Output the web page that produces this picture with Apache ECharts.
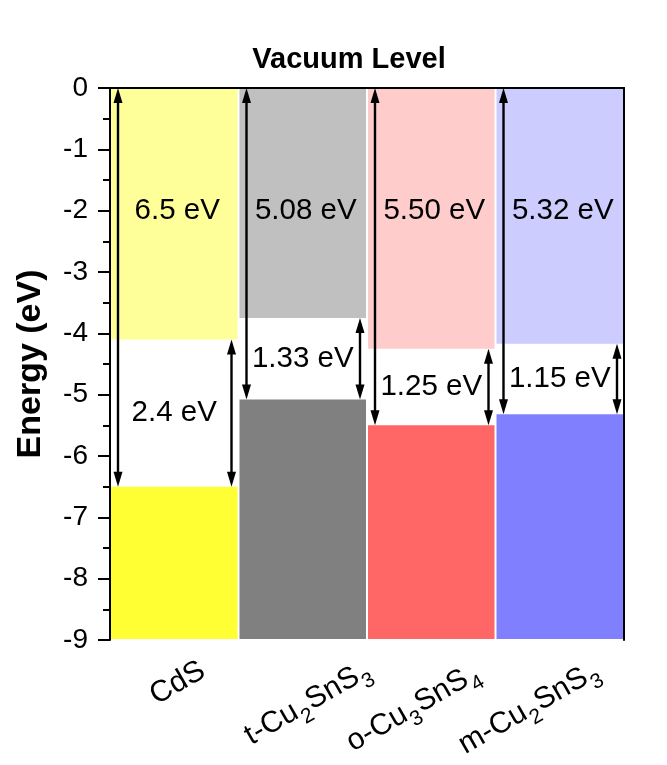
<!DOCTYPE html>
<html>
<head>
<meta charset="utf-8">
<script src="https://cdn.jsdelivr.net/npm/echarts@6/dist/echarts.min.js"></script>
<style>
html,body{margin:0;padding:0;background:#fff;}
#chart{width:667px;height:765px;}
</style>
</head>
<body>
<div id="chart"></div>
<script>
// ---- data ----
const categories = ['CdS', 't-Cu2SnS3', 'o-Cu3SnS4', 'm-Cu2SnS3'];
const valenceBand = [-6.5, -5.08, -5.50, -5.32];
const bandGap = [2.4, 1.33, 1.25, 1.15];
const ionizationLabels = ['6.5 eV', '5.08 eV', '5.50 eV', '5.32 eV'];
const gapLabels = ['2.4 eV', '1.33 eV', '1.25 eV', '1.15 eV'];
const yMin = -9, yMax = 0, yInterval = 1;
const longLabelLevel = -2;

// ---- styles ----
const lightColors = ['#FFFF99', '#C0C0C0', '#FFCCCC', '#CCCCFF'];
const darkColors = ['#FFFF33', '#808080', '#FF6666', '#8080FF'];
const labelPadding = [[0, -44, 32, 0], [4, -77, 0, 0], [0, -59, 11, 0], [0, -52, 23, 0]];
const FONT = 'Liberation Sans, Arial, sans-serif';

const conductionBand = valenceBand.map((v, i) => +(v + bandGap[i]).toFixed(2));
const seriesData = categories.map((c, i) => [i, conductionBand[i], valenceBand[i]]);

function richName(name) {
  return name.split(/(\d)/).filter(s => s.length).map(s => /\d/.test(s) ? '{s|' + s + '}' : '{n|' + s + '}').join('');
}

function arrow(x, yTopTip, yBotTip) {
  const hl = 15, hw = 4.5;
  return [
    {type: 'line', shape: {x1: x, y1: yTopTip + hl - 2, x2: x, y2: yBotTip - hl + 2}, style: {stroke: '#000', lineWidth: 2.4}},
    {type: 'polygon', shape: {points: [[x, yTopTip], [x - hw, yTopTip + hl], [x + hw, yTopTip + hl]]}, style: {fill: '#000'}},
    {type: 'polygon', shape: {points: [[x, yBotTip], [x - hw, yBotTip - hl], [x + hw, yBotTip - hl]]}, style: {fill: '#000'}}
  ];
}

function renderItem(params, api) {
  const i = api.value(0);
  const cb = api.value(1), vb = api.value(2);
  const bw = api.size([1, 0])[0];
  const cx = api.coord([i, 0])[0];
  const x0 = cx - bw / 2, x1 = cx + bw / 2;
  const yTop = api.coord([i, yMax])[1];
  const yCb = api.coord([i, cb])[1];
  const yVb = api.coord([i, vb])[1];
  const yBot = api.coord([i, yMin])[1];
  const children = [];
  children.push({type: 'rect', shape: {x: x0 + 1, y: yTop + 1, width: bw - 2, height: yCb - yTop - 1}, style: {fill: lightColors[i]}});
  children.push({type: 'rect', shape: {x: x0 + 1, y: yVb, width: bw - 2, height: yBot - yVb - 1}, style: {fill: darkColors[i]}});
  children.push(...arrow(x0 + 8, yTop, yVb));
  children.push(...arrow(x1 - 7, yCb, yVb));
  children.push({type: 'text', style: {text: ionizationLabels[i], x: cx + 3, y: api.coord([i, longLabelLevel])[1],
    align: 'center', verticalAlign: 'middle', fill: '#000', fontSize: 29.5, fontFamily: FONT}});
  children.push({type: 'text', style: {text: gapLabels[i], x: cx, y: api.coord([i, (cb + vb) / 2])[1],
    align: 'center', verticalAlign: 'middle', fill: '#000', fontSize: 29.5, fontFamily: FONT}});
  return {type: 'group', children: children};
}

const chart = echarts.init(document.getElementById('chart'), null, {renderer: 'canvas'});
chart.setOption({
  backgroundColor: '#fff',
  animation: false,
  title: {
    text: 'Vacuum Level', left: 344, top: 40, textAlign: 'center',
    textStyle: {fontSize: 29, fontWeight: 'bold', fontFamily: FONT, color: '#000'}
  },
  grid: {left: 110, right: 43, top: 88, bottom: 125, containLabel: false, outerBoundsMode: 'none'},
  xAxis: [{
    type: 'category',
    data: categories.map((c, i) => ({value: c, textStyle: {padding: labelPadding[i]}})),
    position: 'bottom',
    axisLine: {show: true, lineStyle: {color: '#000', width: 2}},
    axisTick: {show: false},
    splitLine: {show: false},
    axisLabel: {
      rotate: 30, margin: 67, interval: 0, hideOverlap: false,
      formatter: v => richName(v),
      rich: {
        n: {fontSize: 30, fontFamily: FONT, color: '#000', lineHeight: 36, verticalAlign: 'top'},
        s: {fontSize: 21, fontFamily: FONT, color: '#000', lineHeight: 21, padding: [16, 1, 0, 1], verticalAlign: 'top'}
      }
    }
  }, {
    type: 'category',
    data: categories,
    position: 'top',
    axisLine: {show: true, lineStyle: {color: '#000', width: 2}},
    axisTick: {show: false},
    axisLabel: {show: false}
  }],
  yAxis: [{
    type: 'value', min: yMin, max: yMax, interval: yInterval,
    name: 'Energy (eV)', nameLocation: 'middle', nameGap: 62,
    nameTextStyle: {fontSize: 34, fontWeight: 'bold', fontFamily: FONT, color: '#000'},
    axisLine: {show: true, lineStyle: {color: '#000', width: 2}},
    axisTick: {show: true, inside: false, length: 12, lineStyle: {color: '#000', width: 2}},
    minorTick: {show: true, splitNumber: 2, length: 7, lineStyle: {color: '#000', width: 2}},
    splitLine: {show: false},
    axisLabel: {fontSize: 28, fontFamily: FONT, color: '#000', margin: 22}
  }, {
    type: 'value', min: yMin, max: yMax, interval: yInterval, position: 'right',
    axisLine: {show: true, lineStyle: {color: '#000', width: 2}},
    axisTick: {show: false}, axisLabel: {show: false}, splitLine: {show: false}
  }],
  series: [{
    type: 'custom',
    renderItem: renderItem,
    data: seriesData,
    encode: {x: 0, y: [1, 2]},
    clip: false
  }]
});
</script>
</body>
</html>
